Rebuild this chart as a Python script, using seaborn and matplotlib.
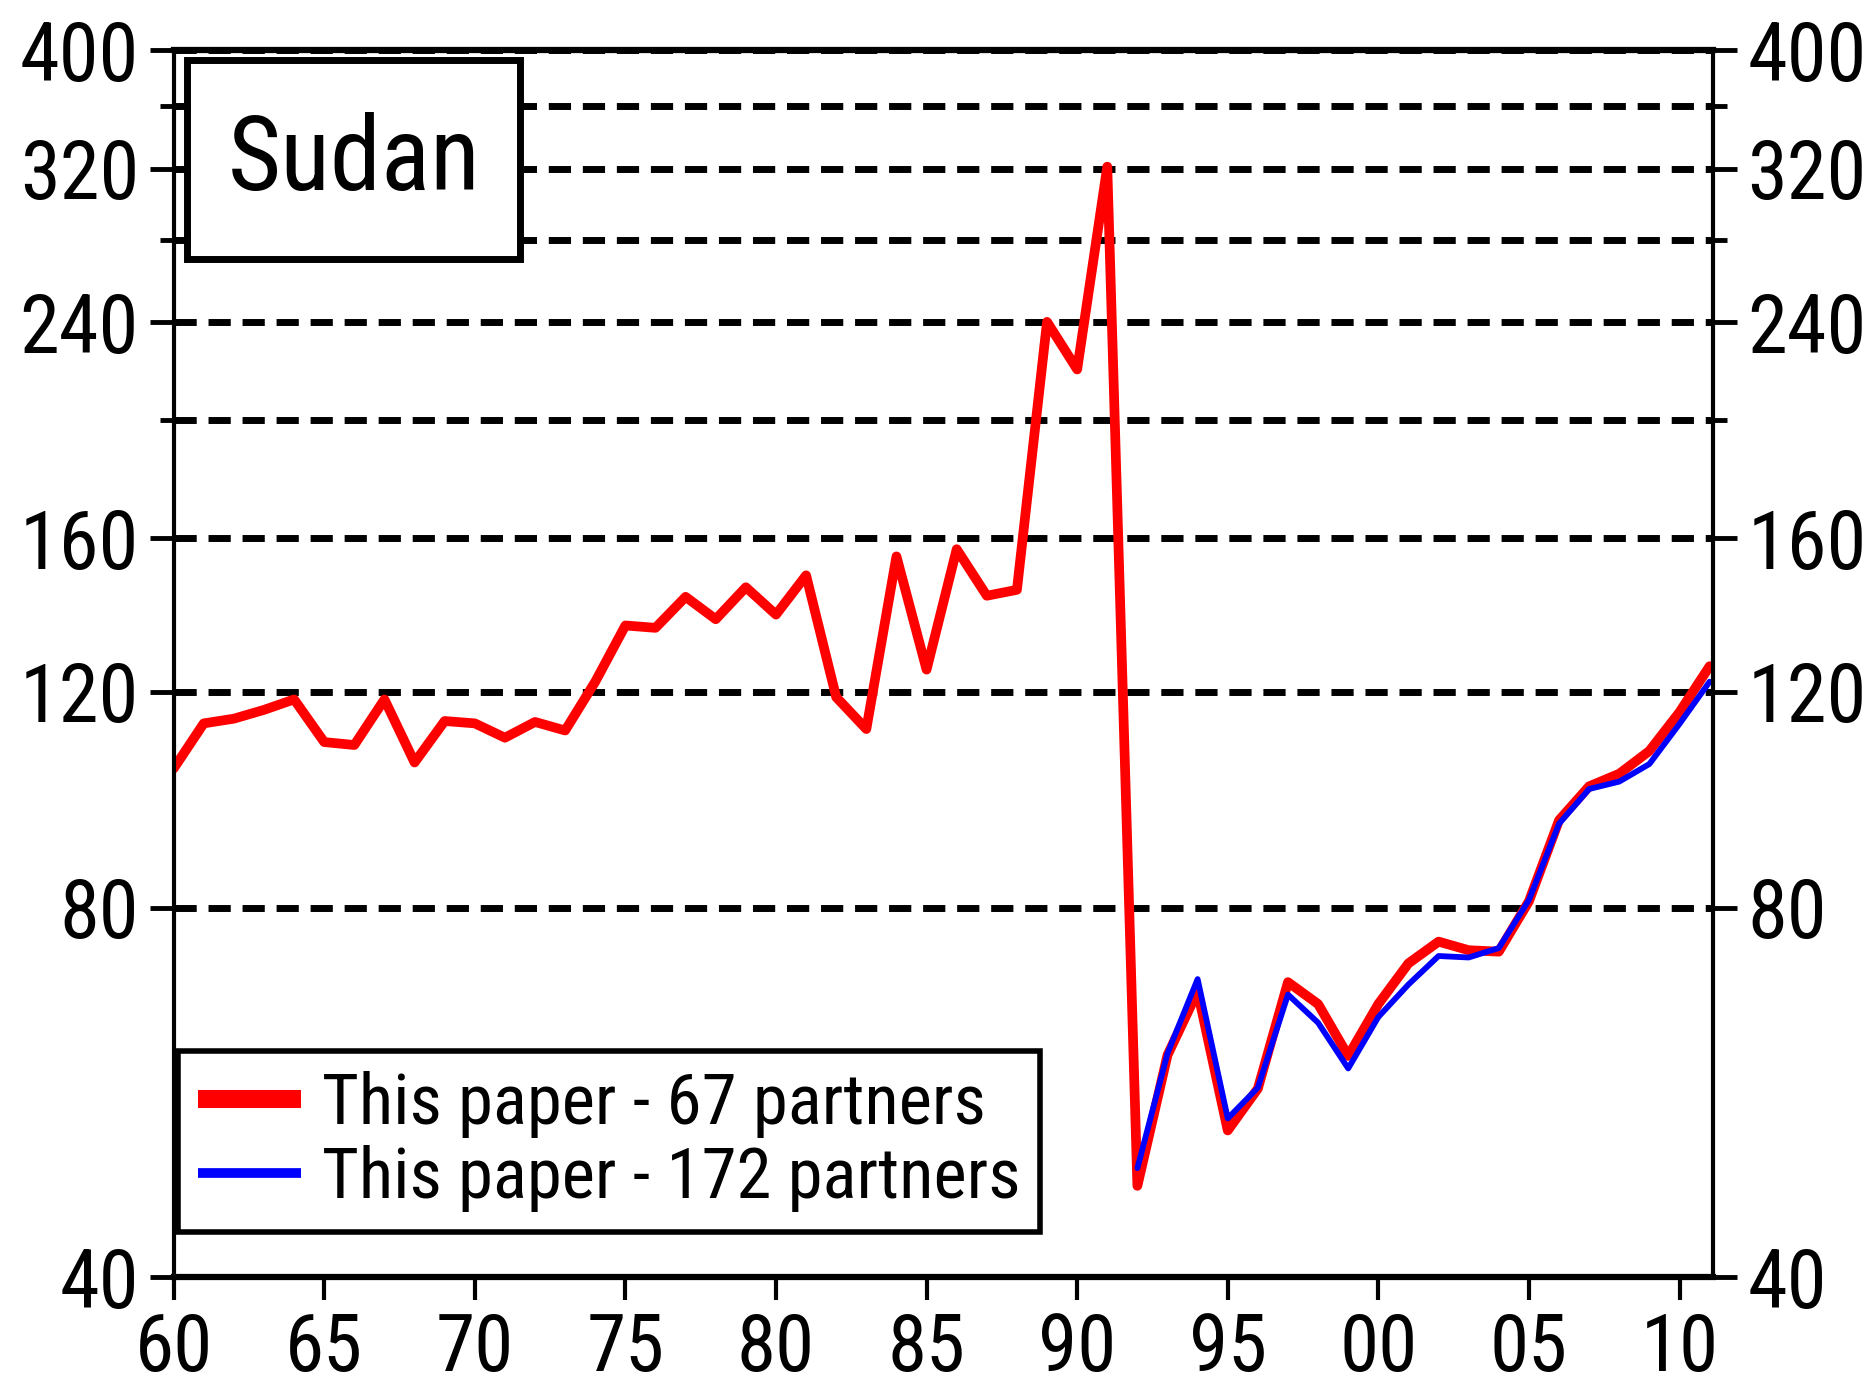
"""
Sudan - log-scale index, 67 vs 172 partners
"""

import numpy as np
import pandas as pd
import matplotlib
matplotlib.use('Agg')
import matplotlib.pyplot as plt
import seaborn as sns
from matplotlib.lines import Line2D
from matplotlib.patches import Rectangle
from matplotlib.ticker import FuncFormatter, NullFormatter

# ---- data ----
years = list(range(1960, 2012))

partners_67 = [
    103.9, 113.1, 114.1, 116.0, 118.3, 109.2, 108.6, 118.3, 105.1, 113.6,
    113.1, 110.1, 113.4, 111.6, 122.3, 135.9, 135.3, 143.4, 137.5, 146.0,
    138.7, 149.3, 118.8, 111.9, 154.7, 125.1, 156.8, 143.7, 145.3, 240.2,
    219.7, 321.4, 47.5, 60.7, 68.4, 52.7, 57.0, 69.6, 66.8, 60.6,
    66.8, 72.1, 75.1, 73.9, 73.7, 81.0, 94.3, 100.5, 102.9, 107.4,
    115.5, 125.9,
]

# 172-partner series only starts in 1992
partners_172 = [np.nan] * 32 + [
    49.1, 60.9, 70.0, 53.9, 57.1, 68.0, 64.5, 59.2,
    65.2, 69.3, 73.1, 72.9, 74.2, 81.2, 93.7, 100.0, 101.4, 104.8,
    113.0, 122.3,
]

major_yticks = [40, 80, 120, 160, 240, 320, 400]
minor_yticks = [200, 280, 360]
xticks = [1960, 1965, 1970, 1975, 1980, 1985, 1990, 1995, 2000, 2005, 2010]
labels = ['This paper - 67 partners', 'This paper - 172 partners']
country = 'Sudan'

df = pd.DataFrame({'year': years, 'p67': partners_67, 'p172': partners_172})

# ---- style ----
sns.set_style('white')
plt.rcParams['font.family'] = ['Liberation Sans Narrow', 'Roboto Condensed',
                               'Archivo Narrow', 'PT Sans Narrow', 'Liberation Sans']
for key in ['text.color', 'axes.labelcolor', 'xtick.color', 'ytick.color']:
    plt.rcParams[key] = 'black'

fig, ax = plt.subplots(figsize=(18.65, 13.9), dpi=100)
fig.subplots_adjust(left=0.0931, right=0.9183, bottom=0.0810, top=0.964)

sns.lineplot(data=df, x='year', y='p67', color='#ff0000', linewidth=7.0, ax=ax, zorder=3)
sns.lineplot(data=df, x='year', y='p172', color='#0000ff', linewidth=4.2, ax=ax, zorder=4)

ax.set_yscale('log')
ax.set_ylim(40, 400)
ax.set_xlim(1960, 2011.1)
ax.set_xlabel('')
ax.set_ylabel('')

ax.set_yticks(major_yticks)
ax.set_yticklabels([str(t) for t in major_yticks])
ax.set_yticks(minor_yticks, minor=True)
ax.yaxis.set_minor_formatter(NullFormatter())
ax.set_xticks(xticks)
ax.xaxis.set_major_formatter(FuncFormatter(lambda v, p: f"{int(v) % 100:02d}"))

ax.grid(True, which='both', axis='y', color='black',
        linestyle=(0, (3.2, 1.7)), linewidth=5)
ax.grid(False, axis='x')
ax.set_axisbelow(True)

ax.tick_params(axis='y', which='both', left=True, right=True,
               labelleft=True, labelright=True, direction='out',
               width=3.5, pad=8, labelsize=58, colors='black')
ax.tick_params(axis='y', which='major', length=17)
ax.tick_params(axis='y', which='minor', length=10)
ax.tick_params(axis='x', which='major', bottom=True, direction='out',
               length=16.5, width=3, pad=8, labelsize=57, colors='black')

for side in ['top', 'bottom']:
    ax.spines[side].set_linewidth(4.5)
for side in ['left', 'right']:
    ax.spines[side].set_linewidth(3)
for sp in ax.spines.values():
    sp.set_color('black')
    sp.set_zorder(6)

# country box (opaque, hides grid behind it)
ax.add_patch(Rectangle((0.0086, 0.830), 0.2164, 0.162, transform=ax.transAxes,
                       facecolor='white', edgecolor='black', linewidth=5, zorder=7))
ax.text(0.117, 0.886, country, transform=ax.transAxes, ha='center', va='baseline',
        fontsize=74, zorder=8)

# legend
handles = [Line2D([], [], color='#ff0000', linewidth=13, solid_capstyle='butt'),
           Line2D([], [], color='#0000ff', linewidth=7, solid_capstyle='butt')]
leg = ax.legend(handles, labels, loc='lower left', bbox_to_anchor=(0.0029, 0.037),
                borderaxespad=0, fontsize=51, handlelength=1.45, handletextpad=0.3,
                labelspacing=0.1, borderpad=0.28, fancybox=False, framealpha=1,
                edgecolor='black')
leg.get_frame().set_linewidth(4)
leg.set_zorder(9)

plt.savefig('out.png', dpi=100)
